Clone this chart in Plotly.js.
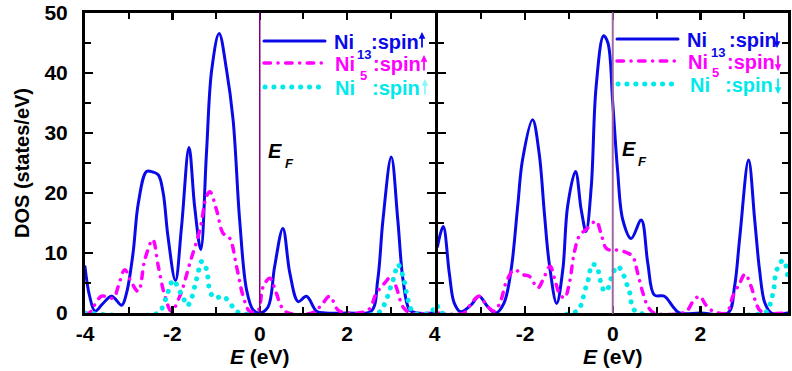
<!DOCTYPE html>
<html>
<head>
<meta charset="utf-8">
<script src="https://cdn.plot.ly/plotly-3.0.1.min.js"></script>
<style>
html,body{margin:0;padding:0;background:#fff}
#chart{width:792px;height:371px}
#chart path.js-line, #chart .shapelayer path{stroke-linecap:round !important}
</style>
</head>
<body>
<div id="chart"></div>
<script>
// ---------- data ----------
// Spin-up panel
const upNi13E = [-4, -3.9, -3.77, -3.6, -3.39, -3.16, -3.05, -2.9, -2.78, -2.59, -2.45, -2.32, -2.21, -2.1, -1.93, -1.79, -1.62, -1.49, -1.35, -1.22, -1.1, -0.93, -0.76, -0.61, -0.46, -0.3, -0.15, 0, 0.19, 0.34, 0.53, 0.69, 0.88, 1.07, 1.3, 1.5, 2.0, 2.55, 2.7, 2.82, 3.01, 3.16, 3.28, 3.43, 3.6, 4];
const upNi13V = [7.7, 3.0, 0.3, 1.5, 2.8, 1.3, 3.3, 10, 18.3, 23.6, 23.5, 23, 20, 12.7, 5.4, 14.4, 27.6, 17.7, 10.6, 26.6, 40.5, 46.6, 40.5, 32.2, 15.5, 3.8, 0.5, 0, 1, 7.7, 14.1, 6.6, 1.9, 2.8, 0.3, 0, 0, 0.3, 5.5, 15.5, 26, 15.5, 5.5, 0.5, 0, 0];

const upNi5E = [-4, -3.9, -3.81, -3.62, -3.35, -3.24, -3.09, -2.93, -2.78, -2.63, -2.45, -2.32, -2.17, -2.02, -1.83, -1.6, -1.37, -1.22, -1.14, -0.99, -0.84, -0.69, -0.53, -0.38, -0.23, -0.05, 0.08, 0.23, 0.38, 0.5, 0.65, 1.2, 1.41, 1.6, 1.79, 2.0, 2.48, 2.67, 2.86, 3.01, 3.12, 3.28, 3.45, 4];
const upNi5V = [0, 0, 1, 2.8, 2.5, 4.4, 7.2, 5, 3.6, 8.9, 12.2, 7.7, 2.8, 0.3, 2.8, 8.3, 13.9, 19.4, 20.2, 17.2, 13.3, 12.5, 7.7, 2.8, 0.3, 0.3, 4.4, 5.8, 3.3, 1, 0, 0, 1.3, 2.8, 0.5, 0, 0.5, 3.3, 5, 6.1, 4.4, 1, 0, 0];

const upNiE = [-4, -2.32, -2.21, -2.13, -2.08, -1.98, -1.83, -1.75, -1.66, -1.56, -1.48, -1.43, -1.33, -1.23, -1.19, -1.14, -1.03, -0.84, -0.69, -0.57, -0.45, 2.7, 2.82, 2.93, 3.0, 3.08, 3.16, 3.28, 3.36, 3.43, 3.52, 3.9, 4];
const upNiV = [0, 0, 1.3, 2.8, 3.9, 5.5, 3.6, 2.5, 1.2, 2.5, 4.7, 6.1, 8.6, 7.5, 6.1, 3.6, 2.5, 2.8, 1.7, 0.6, 0, 0, 1, 2.8, 4.4, 6.1, 8.1, 6.1, 3.3, 1.3, 0, 0, 1];

// Spin-down panel
const dnNi13E = [-4, -3.87, -3.73, -3.62, -3.47, -3.24, -3.05, -2.86, -2.67, -2.48, -2.32, -2.17, -2.06, -1.83, -1.68, -1.56, -1.45, -1.28, -1.14, -1.03, -0.85, -0.72, -0.61, -0.49, -0.38, -0.21, -0.11, 0.0, 0.11, 0.23, 0.42, 0.65, 0.80, 0.95, 1.18, 1.37, 1.52, 2.0, 2.63, 2.78, 2.90, 3.1, 3.24, 3.35, 3.47, 3.62, 4];
const dnNi13V = [11.1, 14.4, 6.6, 1.7, 0.2, 1.3, 2.8, 1.1, 0, 1.7, 7.2, 17.8, 25.5, 32.2, 26.6, 16.6, 8.3, 1.6, 7.2, 17.8, 23.6, 17.2, 13.6, 21.1, 37.7, 46.2, 45, 35, 23.8, 15.5, 12.4, 15.5, 8.3, 3, 2.8, 1.1, 0, 0, 0, 4.4, 12.7, 25.5, 15.5, 7.2, 1.7, 0, 0];

const dnNi5E = [-4, -3.4, -3.28, -3.05, -2.86, -2.70, -2.55, -2.44, -2.25, -2.06, -1.90, -1.71, -1.56, -1.43, -1.33, -1.22, -1.10, -0.99, -0.88, -0.76, -0.61, -0.38, -0.27, -0.15, 0.0, 0.11, 0.34, 0.46, 0.57, 0.69, 0.80, 0.95, 1.6, 1.71, 1.83, 1.98, 2.13, 2.29, 2.59, 2.74, 2.90, 3.02, 3.16, 3.27, 3.38, 4];
const dnNi5V = [0, 0, 1.1, 2.8, 1.1, 0.3, 2.2, 5, 7.2, 6.4, 6.1, 4.2, 6.1, 7.8, 5.8, 3.3, 2.5, 5, 10, 12.9, 13.9, 15.3, 13.3, 10.8, 10.4, 10.5, 10, 9.4, 6.6, 3.3, 1.1, 0, 0, 0.5, 1.9, 2.8, 1.3, 0.3, 0, 2.8, 5, 6.5, 4.4, 1.7, 0.3, 0];

const dnNiE = [-4, -3.9, -0.91, -0.76, -0.69, -0.61, -0.55, -0.47, -0.37, -0.31, -0.24, -0.15, 0.0, 0.11, 0.23, 0.31, 0.38, 0.46, 0.6, 3.45, 3.54, 3.62, 3.68, 3.71, 3.78, 3.89, 3.96, 4];
const dnNiV = [1.1, 0, 0, 0.8, 2.2, 4.4, 5.8, 8.1, 7.8, 6.4, 4.2, 3.6, 6.6, 7.8, 6.6, 5, 3.6, 0.8, 0, 0, 0.5, 2.2, 4.2, 6.1, 7.8, 8.8, 7.7, 5];

const xTickVals = [-4, -2, 0, 2, 4];
const xTickLeft = ['-4', '-2', '0', '2', '4'];
const xTickRight = ['', '-2', '0', '2', '4'];
const yTickVals = [0, 10, 20, 30, 40, 50];
const fermiE = [0];

// ---------- styles ----------
const BLUE = '#0a0ae8', MAG = '#ff00ff', CYAN = '#00eaea';
const FONT = 'Liberation Sans, Arial, sans-serif';
const solid = {color: BLUE, width: 3, shape: 'spline', smoothing: 1};
const dashdot = {color: MAG, width: 3.5, dash: '6.5px,7.5px,0.1px,7.5px', shape: 'spline', smoothing: 1};
const dots = {color: CYAN, width: 5, dash: '0.1px,8.8px', shape: 'spline', smoothing: 1};

function tr(x, y, line, xa, ya) {
  return {x: x, y: y, mode: 'lines', line: line, xaxis: xa, yaxis: ya, hoverinfo: 'skip'};
}
const data = [
  tr(upNi13E, upNi13V, solid, 'x', 'y'),
  tr(upNi5E, upNi5V, dashdot, 'x', 'y'),
  tr(upNiE, upNiV, dots, 'x', 'y'),
  tr(dnNi13E, dnNi13V, solid, 'x2', 'y2'),
  tr(dnNi5E, dnNi5V, dashdot, 'x2', 'y2'),
  tr(dnNiE, dnNiV, dots, 'x2', 'y2')
];

// ---------- layout helpers (pixel -> paper) ----------
const L = 85, R = 4, T = 13, B = 58, W = 792, H = 371;
const PW = W - L - R, PH = H - T - B;
const PX = px => (px - L) / PW;
const PY = py => (H - B - py) / PH;
const leftEnd = PX(434.5), rightStart = PX(437.5);

function txt(text, px, py, color, size, extra) {
  return Object.assign({text: text, x: PX(px), y: PY(py), xref: 'paper', yref: 'paper',
    xanchor: 'left', yanchor: 'middle', showarrow: false,
    font: {family: FONT, size: size, color: color, weight: 'bold'}}, extra || {});
}
function arrow(px, tipY, tailY, color) {
  return {text: '', x: PX(px), y: PY(tipY), xref: 'paper', yref: 'paper',
    showarrow: true, ax: 0, ay: tailY - tipY, axref: 'pixel', ayref: 'pixel',
    arrowcolor: color, arrowwidth: 1.8, arrowhead: 2, arrowsize: 0.75, standoff: 0, startstandoff: 0};
}
function legLine(x0, x1, py, line) {
  return {type: 'line', xref: 'paper', yref: 'paper', x0: PX(x0), x1: PX(x1), y0: PY(py), y1: PY(py),
    line: {color: line.color, width: line.width, dash: line.dash || 'solid'}};
}

const annotations = [
  // spin-up legend
  txt('Ni', 332, 42, BLUE, 20), txt('13', 355, 54, BLUE, 13), txt(':spin', 369, 42, BLUE, 20),
  arrow(422, 32, 49, BLUE),
  txt('Ni', 333, 64, MAG, 20), txt('5', 358, 76, MAG, 13), txt(':spin', 371, 64, MAG, 20),
  arrow(424, 55, 72, MAG),
  txt('Ni', 333, 88, CYAN, 20), txt(':spin', 370, 88, CYAN, 20),
  arrow(425, 79, 96, '#8ff5f5'),
  // spin-down legend
  txt('Ni', 685, 40, BLUE, 20), txt('13', 709, 52, BLUE, 13), txt(':spin', 727, 40, BLUE, 20),
  arrow(777, 48, 31, BLUE),
  txt('Ni', 686, 62, MAG, 20), txt('5', 710, 73, MAG, 13), txt(':spin', 725, 62, MAG, 20),
  arrow(778, 71, 54, MAG),
  txt('Ni', 688, 85, CYAN, 20), txt(':spin', 723, 85, CYAN, 20),
  arrow(778, 94, 77, CYAN),
  // Fermi level labels
  txt('<i>E</i>', 266, 151, 'black', 20), txt('<i>F</i>', 283, 163, 'black', 13),
  txt('<i>E</i>', 620, 149, 'black', 20), txt('<i>F</i>', 636, 161, 'black', 13)
];

const shapes = [
  {type: 'line', xref: 'x', yref: 'paper', x0: fermiE[0], x1: fermiE[0], y0: 0, y1: 1, line: {color: '#800080', width: 1.5}},
  {type: 'line', xref: 'x2', yref: 'paper', x0: fermiE[0], x1: fermiE[0], y0: 0, y1: 1, line: {color: '#a066a6', width: 2}},
  legLine(264, 325, 41, solid), legLine(264, 325, 63, dashdot), legLine(265, 325, 87, dots),
  legLine(617, 678, 39, solid), legLine(617, 678, 61, dashdot), legLine(618, 678, 84, dots)
];

function xAxis(domain, ticktext, anchor) {
  return {domain: domain, range: [-4, 4], anchor: anchor, tickmode: 'array', tickvals: xTickVals, ticktext: ticktext,
    ticks: 'inside', ticklen: 7, tickwidth: 2.5, tickcolor: 'black',
    minor: {dtick: 1, ticks: 'inside', ticklen: 6, tickwidth: 2, tickcolor: 'black'},
    showline: true, linewidth: 3, linecolor: 'black', mirror: 'ticks', showgrid: false, zeroline: false,
    tickfont: {family: FONT, size: 21, color: 'black', weight: 'bold'},
    title: {text: '<i>E</i> (eV)', standoff: 6, font: {family: FONT, size: 21, color: 'black', weight: 'bold'}}};
}
function yAxis(anchor, labels) {
  return {domain: [0, 1], range: [0, 50], anchor: anchor, tickmode: 'array', tickvals: yTickVals,
    showticklabels: labels, ticks: 'inside', ticklen: 8, tickwidth: 2.5, tickcolor: 'black',
    minor: {dtick: 5, ticks: 'inside', ticklen: 6, tickwidth: 2, tickcolor: 'black'},
    showline: true, linewidth: 3, linecolor: 'black', mirror: 'ticks', showgrid: false, zeroline: false,
    ticklabelstandoff: 10,
    tickfont: {family: FONT, size: 21, color: 'black', weight: 'bold'},
    title: labels ? {text: 'DOS (states/eV)', standoff: 10, font: {family: FONT, size: 20, color: 'black', weight: 'bold'}} : {text: ''}};
}

const layout = {
  width: W, height: H, margin: {l: L, r: R, t: T, b: B, pad: 0},
  paper_bgcolor: 'white', plot_bgcolor: 'white', showlegend: false,
  font: {family: FONT, size: 20, color: 'black'},
  xaxis: xAxis([0, leftEnd], xTickLeft, 'y'),
  xaxis2: xAxis([rightStart, 1], xTickRight, 'y2'),
  yaxis: yAxis('x', true),
  yaxis2: yAxis('x2', false),
  shapes: shapes,
  annotations: annotations
};

Plotly.newPlot('chart', data, layout, {displayModeBar: false, staticPlot: true});
</script>
</body>
</html>
